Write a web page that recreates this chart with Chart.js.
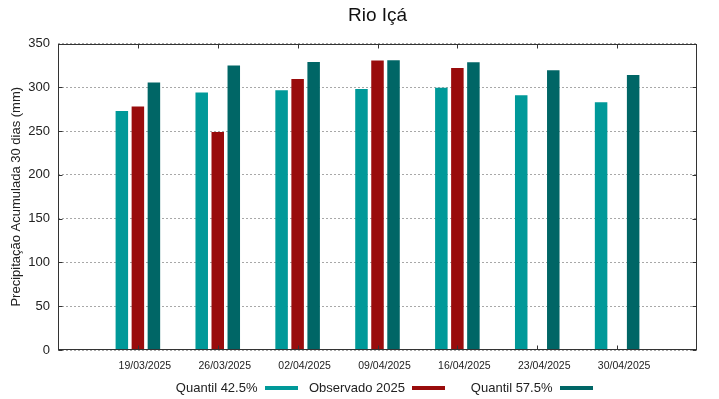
<!DOCTYPE html>
<html>
<head>
<meta charset="utf-8">
<title>Rio Içá</title>
<script src="https://cdn.jsdelivr.net/npm/chart.js@4/dist/chart.umd.min.js"></script>
<style>
  body { margin: 0; background: #fff; }
  #wrap { position: relative; width: 719px; height: 399px; }
  #legend {
    position: absolute; left: 150px; top: 379px;
    display: flex; font-family: "Liberation Sans", Arial, sans-serif;
    font-size: 13px; line-height: 18px; color: #222;
  }
  .leg-item { width: 147.5px; display: flex; justify-content: flex-end; align-items: center; }
  .leg-swatch { width: 33px; height: 4px; margin-left: 7px; }
</style>
</head>
<body>
<div id="wrap">
  <canvas id="chart" width="719" height="399"></canvas>
  <div id="legend"></div>
</div>
<script>
/*-----------------------------
Data
------------------------------*/
const dates = ['19/03/2025', '26/03/2025', '02/04/2025', '09/04/2025', '16/04/2025', '23/04/2025', '30/04/2025'];

const quantil425 = [273, 294, 296.5, 298, 299.5, 291, 283];
const observado2025 = [278, 249, 309.5, 330.5, 322, null, null];
const quantil575 = [305.5, 325, 329, 331, 328.5, 319.5, 314];

const seriesNames = ['Quantil 42.5%', 'Observado 2025', 'Quantil 57.5%'];
const seriesColors = ['#009999', '#990c0c', '#006666'];

const yTicks = [0, 50, 100, 150, 200, 250, 300, 350];

// gnuplot style x range: one empty slot on each side
const labels = [''].concat(dates, ['']);
function pad(arr) { return [null].concat(arr, [null]); }

/*-----------------------------
Frame + inward ticks (gnuplot border)
------------------------------*/
const framePlugin = {
  id: 'frame',
  afterDatasetsDraw(chart) {
    const c = chart.ctx;
    const a = chart.chartArea;
    const xs = chart.scales.x;
    const ys = chart.scales.y;
    const L = Math.round(a.left) + 0.5, R = Math.round(a.right) - 0.5;
    const T = Math.round(a.top) + 0.5, B = Math.round(a.bottom) - 0.5;
    c.save();
    c.strokeStyle = '#333';
    c.lineWidth = 1;
    c.strokeRect(L, T, R - L, B - T);
    c.beginPath();
    for (let i = 1; i <= dates.length; i++) {
      const px = Math.round(xs.getPixelForValue(i)) + 0.5;
      c.moveTo(px, B); c.lineTo(px, B - 4);
      c.moveTo(px, T); c.lineTo(px, T + 4);
    }
    yTicks.forEach(v => {
      const py = Math.round(ys.getPixelForValue(v)) + 0.5;
      c.moveTo(L, py); c.lineTo(L + 4, py);
      c.moveTo(R, py); c.lineTo(R - 4, py);
    });
    c.stroke();
    c.restore();
  }
};

/*-----------------------------
Chart
------------------------------*/
const ctx = document.getElementById('chart');

const chart = new Chart(ctx, {
  type: 'bar',
  data: {
    labels: labels,
    datasets: [quantil425, observado2025, quantil575].map((d, i) => ({
      label: seriesNames[i],
      data: pad(d),
      backgroundColor: seriesColors[i],
      borderWidth: 0,
      categoryPercentage: 0.602,
      barPercentage: 0.78
    }))
  },
  options: {
    responsive: false,
    animation: false,
    layout: { padding: { left: 0, right: 22, top: 0, bottom: 0 } },
    plugins: {
      legend: { display: false },
      tooltip: { enabled: false },
      title: {
        display: true,
        fullSize: false,
        text: 'Rio Içá',
        color: '#111',
        font: { family: 'Liberation Sans', size: 19, weight: 'normal' },
        padding: { top: 4, bottom: 16.7 }
      }
    },
    scales: {
      x: {
        offset: false,
        grid: { display: false, drawTicks: false },
        border: { display: false },
        ticks: {
          autoSkip: false,
          maxRotation: 0,
          padding: 10,
          labelOffset: 7,
          color: '#222',
          font: { family: 'Liberation Sans', size: 10.5 }
        },
        afterFit(s) { s.height = 49; }
      },
      y: {
        min: 0,
        max: 350,
        grid: { color: '#a8a8a8', lineWidth: 1, drawTicks: false },
        border: { display: false, dash: [2, 2] },
        ticks: {
          stepSize: 50,
          padding: 8,
          color: '#222',
          font: { family: 'Liberation Sans', size: 13 }
        },
        title: {
          display: true,
          text: 'Precipitação Acumulada 30 dias (mm)',
          color: '#222',
          font: { family: 'Liberation Sans', size: 13 },
          padding: { top: 9, bottom: 0 }
        },
        afterFit(s) { s.width = 58; }
      }
    }
  },
  plugins: [framePlugin]
});

/*-----------------------------
Legend (text first, line swatch after, like gnuplot)
------------------------------*/
const legend = document.getElementById('legend');
seriesNames.forEach((name, i) => {
  const item = document.createElement('div');
  item.className = 'leg-item';
  item.innerHTML = `<span>${name}</span><span class="leg-swatch" style="background:${seriesColors[i]}"></span>`;
  legend.appendChild(item);
});
</script>
</body>
</html>
